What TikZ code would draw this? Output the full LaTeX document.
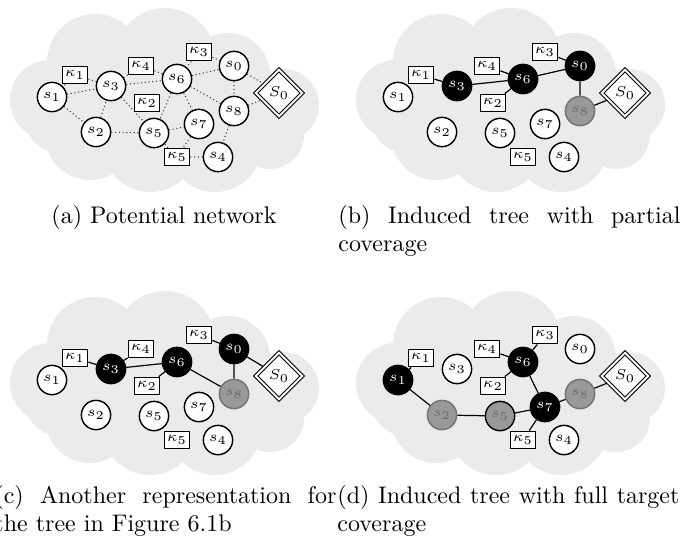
\documentclass[tikz,border=0pt]{standalone}
\usetikzlibrary{shapes.geometric}
\pgfdeclarelayer{paper}
\pgfdeclarelayer{cloudlayer}
\pgfdeclarelayer{edgelayer}
\pgfsetlayers{paper,cloudlayer,edgelayer,main}
\definecolor{cloudcol}{gray}{0.92}
\newcommand\netcloud{%
  \begin{pgfonlayer}{cloudlayer}
  \fill[cloudcol] (50,100) circle[radius=40] (95,62) circle[radius=48]
    (165,58) circle[radius=50] (228,75) circle[radius=42]
    (283,105) circle[radius=36] (270,135) circle[radius=34]
    (215,145) circle[radius=47] (150,145) circle[radius=47]
    (90,135) circle[radius=45] (165,110) circle[radius=60]
    (60,118) circle[radius=35];
  \end{pgfonlayer}}
\newcommand\netnodes[1]{%
  \node[st0] (#1s0) at (234,66) {$s_0$};
  \node[st1] (#1s1) at (52,97) {$s_1$};
  \node[st2] (#1s2) at (96,132) {$s_2$};
  \node[st3] (#1s3) at (111,86) {$s_3$};
  \node[st4] (#1s4) at (218,157) {$s_4$};
  \node[st5] (#1s5) at (154,133) {$s_5$};
  \node[st6] (#1s6) at (177,79) {$s_6$};
  \node[st7] (#1s7) at (199,124) {$s_7$};
  \node[st8] (#1s8) at (234,111) {$s_8$};
  \node[basestn] (#1S0) at (279,93) {$S_0$};
  \node[tgt] (#1k1) at (75,75) {$\kappa_1$};
  \node[tgt] (#1k2) at (147,103) {$\kappa_2$};
  \node[tgt] (#1k3) at (199,52) {$\kappa_3$};
  \node[tgt] (#1k4) at (141,66) {$\kappa_4$};
  \node[tgt] (#1k5) at (177,157) {$\kappa_5$};}
\begin{document}
\begin{tikzpicture}[x=0.41667pt,y=-0.41667pt,
  nfont/.style={font=\fontsize{6}{7}\selectfont},
  sn/.style={circle, draw, line width=0.6pt, fill=white, minimum size=12.2pt, inner sep=0pt, nfont},
  bn/.style={sn, fill=black, text=white},
  gn/.style={sn, fill=black!40, draw=black!55, text=black!58},
  gbn/.style={gn, draw=black},
  tgt/.style={rectangle, draw, line width=0.55pt, fill=white, minimum width=10.6pt, minimum height=7.3pt, inner sep=0pt, nfont},
  basestn/.style={diamond, draw, double, double distance=0.8pt, line width=0.45pt, fill=white, minimum size=19.5pt, inner sep=0pt, nfont},
  pe/.style={draw=black!75, line width=0.45pt, dash pattern=on 0.45pt off 1.1pt},
  te/.style={draw, line width=0.5pt},
  st0/.style={sn}, st1/.style={sn}, st2/.style={sn}, st3/.style={sn}, st4/.style={sn},
  st5/.style={sn}, st6/.style={sn}, st7/.style={sn}, st8/.style={sn},
  captxt/.style={anchor=base west, inner sep=0pt, font=\normalsize}]
\useasboundingbox (0,0) rectangle (687,541);
\begin{pgfonlayer}{paper}
\fill[white] (0,0) rectangle (687,541);
\end{pgfonlayer}

% (a) potential network
\begin{scope}
  \netcloud
  \netnodes{a}
  \begin{pgfonlayer}{edgelayer}
    \path[pe] (as1) -- (as3) (ak1) -- (as3) (as1) -- (as2) (as2) -- (as3)
      (as2) -- (as5) (as3) -- (as6) (as3) -- (as5) (as6) -- (as5)
      (ak4) -- (as6) (ak4) -- (as3) (as6) -- (as0) (ak3) -- (as0) (ak3) -- (as6)
      (as6) -- (as8) (as6) -- (as7) (as0) -- (aS0) (as0) -- (as8)
      (as8) -- (aS0) (as5) -- (as7) (as7) -- (ak5) (ak5) -- (as4)
      (as8) -- (as4) (ak1) -- (as1) (ak5) -- (as5);
  \end{pgfonlayer}
\end{scope}

% (b) induced tree with partial coverage
\begin{scope}[shift={(346,0)}, st3/.style={bn}, st6/.style={bn}, st0/.style={bn}, st8/.style={gn}]
  \netcloud
  \netnodes{b}
  \begin{pgfonlayer}{edgelayer}
    \path[te] (bk1) -- (bs3) (bs3) -- (bs6) (bk4) -- (bs6) (bk2) -- (bs6)
      (bs6) -- (bs0) (bk3) -- (bs0) (bs0) -- (bs8) (bs8) -- (bS0);
  \end{pgfonlayer}
\end{scope}

% (c) another representation
\begin{scope}[shift={(0,283)}, st3/.style={bn}, st6/.style={bn}, st0/.style={bn}, st8/.style={gn}]
  \netcloud
  \netnodes{c}
  \begin{pgfonlayer}{edgelayer}
    \path[te] (ck1) -- (cs3) (ck4) -- (cs3) (cs3) -- (cs6) (ck2) -- (cs6)
      (cs6) -- (cs8) (cs8) -- (cs0) (ck3) -- (cs0) (cs0) -- (cS0);
  \end{pgfonlayer}
\end{scope}

% (d) induced tree with full target coverage
\begin{scope}[shift={(346,283)}, st1/.style={bn}, st6/.style={bn}, st7/.style={bn},
  st2/.style={gn}, st5/.style={gbn}, st8/.style={gn}]
  \netcloud
  \netnodes{d}
  \begin{pgfonlayer}{edgelayer}
    \path[te] (dk1) -- (ds1) (ds1) -- (ds2) (ds2) -- (ds5) (ds5) -- (ds7)
      (dk5) -- (ds7) (ds7) -- (ds6) (dk4) -- (ds6) (dk2) -- (ds6) (dk3) -- (ds6)
      (ds7) -- (ds8) (ds8) -- (dS0);
  \end{pgfonlayer}
\end{scope}

% captions
\node[captxt] (capa) at (51,223) {(a) Potential network};
\node[captxt] (capb1) at (338,223) {\hbox to 142.5pt{(b) Induced tree with partial}};
\node[captxt] (capb2) at (338,251) {coverage};
\node[captxt] (capc1) at (-6,503) {\hbox to 142.5pt{(c) Another representation for}};
\node[captxt] (capc2) at (-6,531) {the tree in Figure 6.1b};
\node[captxt] (capd1) at (337,503) {\hbox to 142.5pt{(d) Induced tree with full target}};
\node[captxt] (capd2) at (337,531) {coverage};
\end{tikzpicture}
\end{document}
